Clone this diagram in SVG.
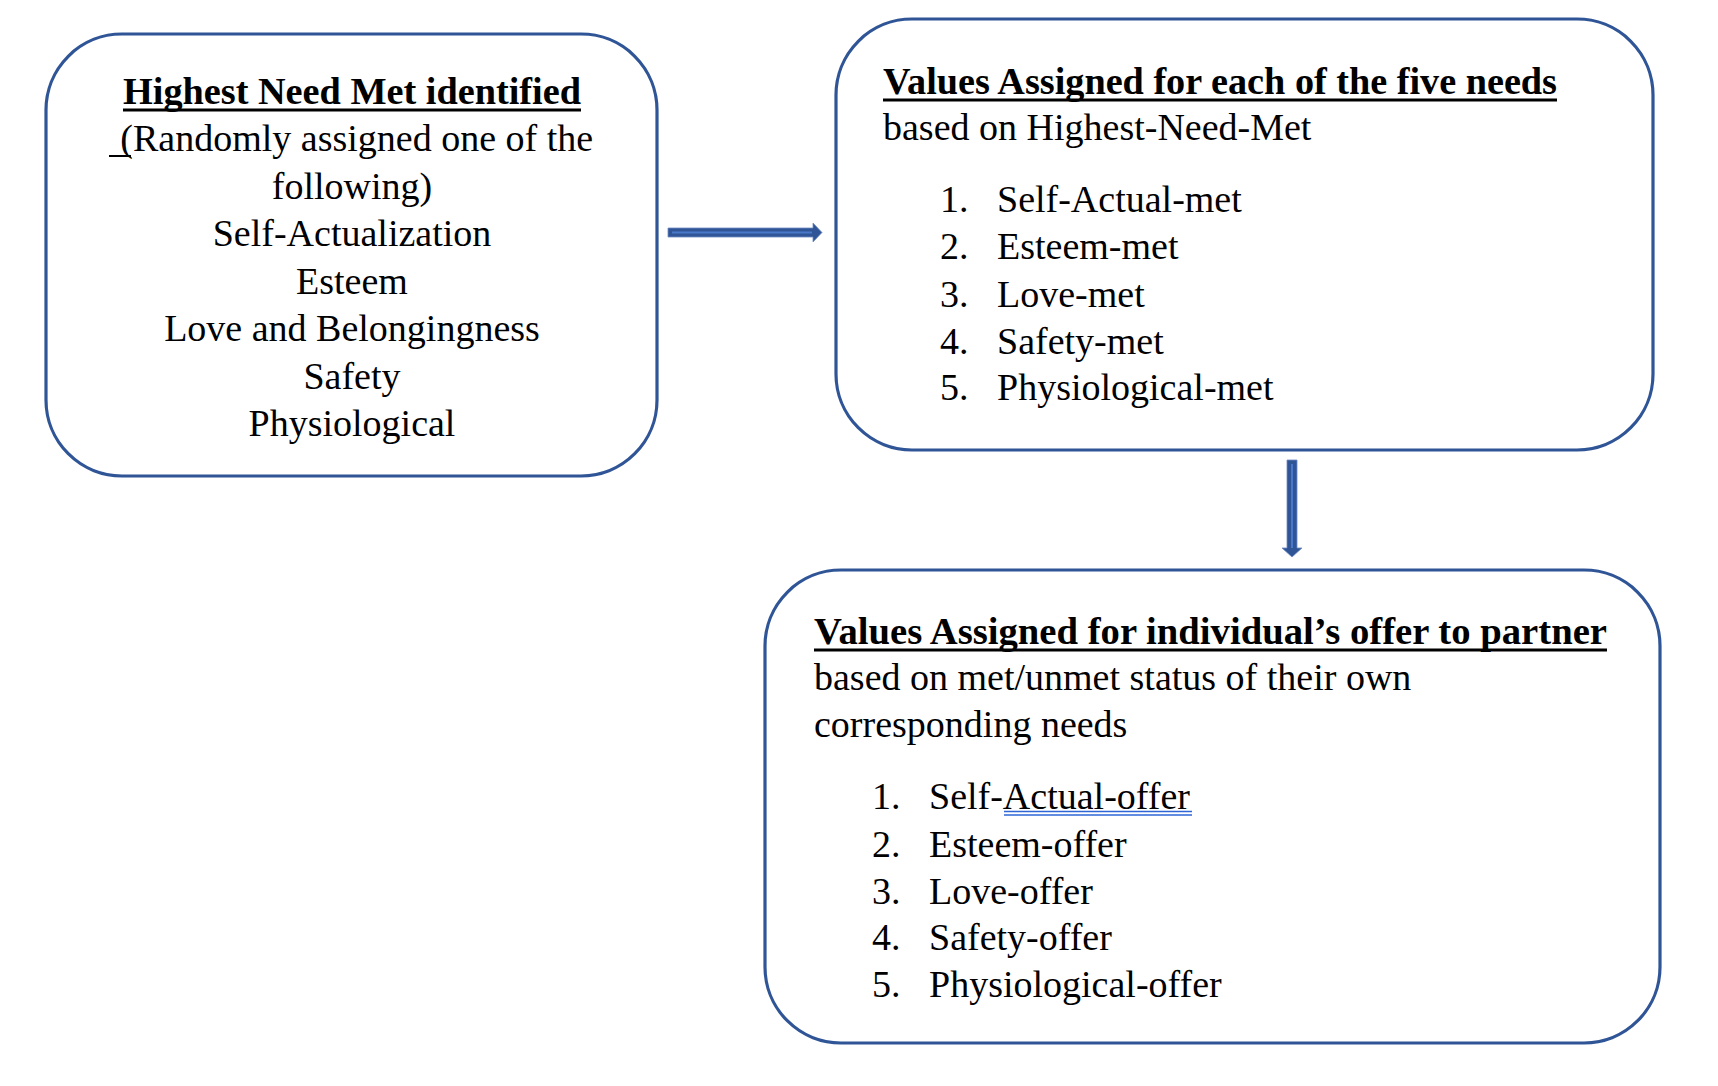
<svg xmlns="http://www.w3.org/2000/svg" width="1718" height="1086" viewBox="0 0 1718 1086">
<style>
.box{fill:#FFFFFF;stroke:#2F5597;stroke-width:3.2}
text{font-family:"Liberation Serif","Times New Roman",serif;font-size:38px;fill:#000000}
.b{font-weight:bold}
.c{text-anchor:middle}
.ul{stroke:#000000;stroke-width:3}
.arr{fill:#2F5597;stroke:#6F8CC4;stroke-width:0.8}
.stripe{stroke:#4A78C8;stroke-width:2}
.sp{stroke:#2E66D6;stroke-width:1.6;fill:none}
</style>
<rect width="1718" height="1086" fill="#FFFFFF"/>
<g id="connectors">
  <g id="arrow-right">
    <path class="arr" d="M668,228 L813,228 L813,223 L822,232.5 L813,242 L813,237 L668,237 Z"/>
    <line class="stripe" x1="672" y1="232.5" x2="812" y2="232.5"/>
  </g>
  <g id="arrow-down">
    <path class="arr" d="M1287,460 L1297,460 L1297,548 L1302,548 L1292,557 L1282,548 L1287,548 Z"/>
    <line class="stripe" x1="1292" y1="464" x2="1292" y2="548"/>
  </g>
</g>
<g id="node-highest-need">
  <rect class="box" x="46" y="34" width="611" height="442" rx="76" ry="76"/>
  <text class="b" x="123" y="103.5" textLength="458" lengthAdjust="spacingAndGlyphs">Highest Need Met identified</text>
  <line class="ul" x1="123" y1="110" x2="581" y2="110"/>
  <text class="c" x="352" y="151" xml:space="preserve"> (Randomly assigned one of the</text>
  <line x1="109" y1="156" x2="131" y2="156" stroke="#000000" stroke-width="2"/>
  <text class="c" x="352" y="198.5">following)</text>
  <text class="c" x="352" y="246">Self-Actualization</text>
  <text class="c" x="352" y="293.5">Esteem</text>
  <text class="c" x="352" y="341">Love and Belongingness</text>
  <text class="c" x="352" y="388.5">Safety</text>
  <text class="c" x="352" y="436">Physiological</text>
</g>
<g id="node-values-needs">
  <rect class="box" x="836" y="19" width="817" height="431" rx="76" ry="76"/>
  <text class="b" x="883" y="93.5" textLength="674" lengthAdjust="spacingAndGlyphs">Values Assigned for each of the five needs</text>
  <line class="ul" x1="883" y1="100" x2="1557" y2="100"/>
  <text x="883" y="139.5">based on Highest-Need-Met</text>
  <text x="940" y="211.5">1.</text><text x="997" y="211.5">Self-Actual-met</text>
  <text x="940" y="259">2.</text><text x="997" y="259">Esteem-met</text>
  <text x="940" y="306.5">3.</text><text x="997" y="306.5">Love-met</text>
  <text x="940" y="353.5">4.</text><text x="997" y="353.5">Safety-met</text>
  <text x="940" y="399.5">5.</text><text x="997" y="399.5">Physiological-met</text>
</g>
<g id="node-values-offer">
  <rect class="box" x="765" y="570" width="895" height="473" rx="76" ry="76"/>
  <text class="b" x="814" y="643.5" textLength="793" lengthAdjust="spacingAndGlyphs">Values Assigned for individual’s offer to partner</text>
  <line class="ul" x1="814" y1="650" x2="1607" y2="650"/>
  <text x="814" y="689.5">based on met/unmet status of their own</text>
  <text x="814" y="736.5">corresponding needs</text>
  <text x="872" y="808.5">1.</text><text x="929" y="808.5">Self-Actual-offer</text>
  <line class="sp" x1="1004" y1="811.5" x2="1192" y2="811.5"/>
  <line class="sp" x1="1004" y1="815" x2="1192" y2="815"/>
  <text x="872" y="856.5">2.</text><text x="929" y="856.5">Esteem-offer</text>
  <text x="872" y="903.5">3.</text><text x="929" y="903.5">Love-offer</text>
  <text x="872" y="949.5">4.</text><text x="929" y="949.5">Safety-offer</text>
  <text x="872" y="996.5">5.</text><text x="929" y="996.5">Physiological-offer</text>
</g>
</svg>
